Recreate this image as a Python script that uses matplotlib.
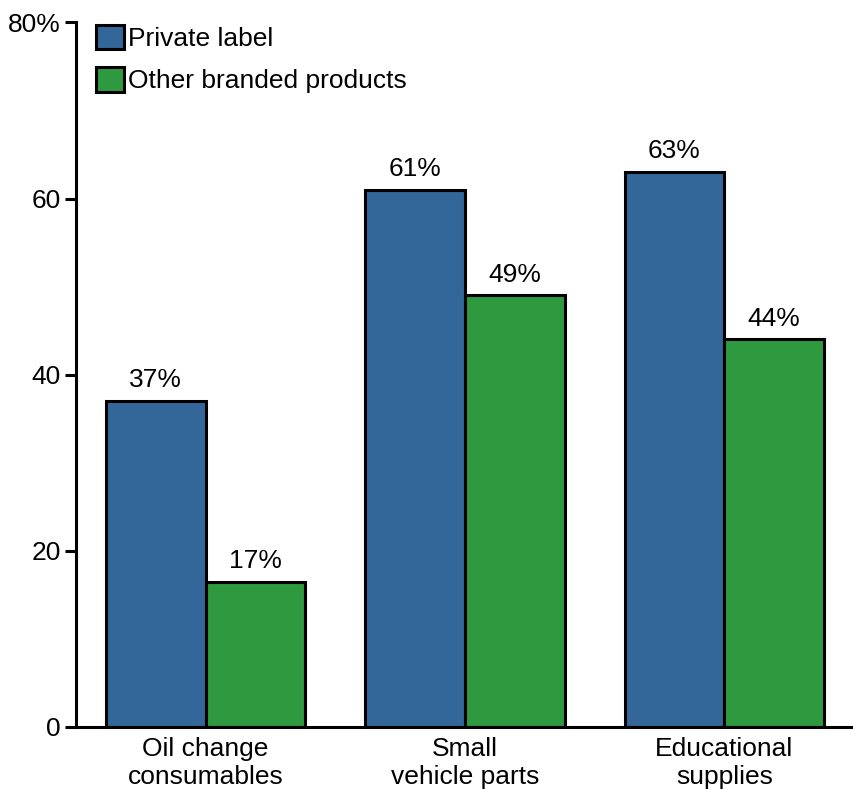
import matplotlib
matplotlib.use("Agg")
import numpy as np
from matplotlib import pyplot as plt

plt.rcParams["font.family"] = ["Liberation Sans", "DejaVu Sans"]

categories = ["Oil change\nconsumables", "Small\nvehicle parts", "Educational\nsupplies"]
private_label = [37, 61, 63]
other_branded = [16.5, 49, 44]
private_text = ["37%", "61%", "63%"]
other_text = ["17%", "49%", "44%"]
y_ticks = [0, 20, 40, 60, 80]
y_tick_labels = ["0", "20", "40", "60", "80%"]

BLUE = "#336699"
GREEN = "#2e993f"
FS = 19

fig = plt.figure(figsize=(8.54, 7.89), dpi=100)
ax = fig.add_axes((0.089, 0.0786, 0.911, 0.893))

x = np.arange(len(categories))
w = 100 / 260
b1 = ax.bar(x - w / 2, private_label, w, color=BLUE, edgecolor="black",
            linewidth=2.2, label="Private label")
b2 = ax.bar(x + w / 2, other_branded, w, color=GREEN, edgecolor="black",
            linewidth=2.2, label="Other branded products")

for bars, texts in ((b1, private_text), (b2, other_text)):
    for rect, t in zip(bars, texts):
        ax.text(rect.get_x() + rect.get_width() / 2, rect.get_height() + 1.0, t,
                ha="center", va="bottom", fontsize=FS)

ax.set_xlim(-0.5, 2.5)
ax.set_ylim(0, 80)
ax.set_yticks(y_ticks)
ax.set_yticklabels(y_tick_labels, fontsize=FS)
ax.set_xticks(x)
ax.set_xticklabels(categories, fontsize=FS, linespacing=1.2)
ax.tick_params(axis="x", length=0, pad=7)
ax.tick_params(axis="y", length=8, width=2.2, pad=3)

for side in ("top", "right"):
    ax.spines[side].set_visible(False)
for side in ("left", "bottom"):
    ax.spines[side].set_linewidth(2.2)

leg = ax.legend(loc="upper left", bbox_to_anchor=(0.012, 1.012), frameon=False,
                fontsize=FS, handlelength=1.05, handleheight=1.05,
                handletextpad=0.15, labelspacing=0.62, borderaxespad=0.0)

fig.savefig("out.png", dpi=100)
